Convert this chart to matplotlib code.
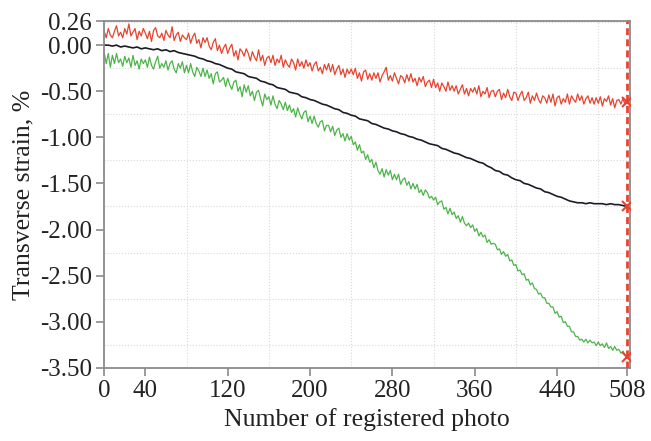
import numpy as np
import matplotlib
matplotlib.use('Agg')
import matplotlib.pyplot as plt
from matplotlib.ticker import MultipleLocator

plt.rcParams['font.family'] = ['Liberation Serif', 'DejaVu Serif']

# Photo numbers: red/green read every 2nd photo, black every 4th
photo_fine = np.arange(0, 509, 2)
photo_coarse = np.arange(0, 509, 4)

# Transverse strain, %
strain_red = [
    0.15, 0.08, 0.18, 0.11, 0.08, 0.15, 0.21, 0.10, 0.14, 0.08,
    0.18, 0.12, 0.23, 0.10, 0.14, 0.18, 0.06, 0.15, 0.10, 0.18,
    0.13, 0.07, 0.15, 0.04, 0.16, 0.19, 0.10, 0.08, 0.13, 0.05,
    0.16, 0.11, 0.08, 0.20, 0.05, 0.11, 0.14, 0.04, 0.11, 0.08,
    0.06, 0.13, 0.02, 0.09, 0.13, 0.02, 0.06, -0.03, 0.08, 0.03,
    0.08, -0.01, -0.05, 0.03, 0.07, -0.06, 0.00, -0.09, -0.03, 0.01,
    -0.09, -0.03, 0.01, -0.12, -0.06, -0.16, -0.04, -0.07, -0.12, -0.04,
    -0.09, -0.17, -0.07, -0.13, -0.17, -0.05, -0.17, -0.11, -0.22, -0.14,
    -0.12, -0.19, -0.11, -0.22, -0.15, -0.19, -0.11, -0.24, -0.16, -0.21,
    -0.24, -0.15, -0.19, -0.27, -0.15, -0.23, -0.18, -0.25, -0.16, -0.23,
    -0.19, -0.28, -0.21, -0.18, -0.28, -0.24, -0.31, -0.21, -0.27, -0.20,
    -0.29, -0.21, -0.32, -0.26, -0.22, -0.32, -0.26, -0.35, -0.26, -0.31,
    -0.26, -0.32, -0.25, -0.36, -0.30, -0.39, -0.29, -0.27, -0.37, -0.31,
    -0.38, -0.30, -0.36, -0.30, -0.40, -0.33, -0.29, -0.24, -0.38, -0.33,
    -0.39, -0.30, -0.36, -0.42, -0.33, -0.35, -0.41, -0.32, -0.39, -0.31,
    -0.40, -0.36, -0.44, -0.35, -0.40, -0.34, -0.45, -0.40, -0.38, -0.46,
    -0.37, -0.46, -0.41, -0.50, -0.41, -0.45, -0.50, -0.40, -0.49, -0.44,
    -0.50, -0.44, -0.53, -0.48, -0.43, -0.53, -0.47, -0.55, -0.47, -0.51,
    -0.46, -0.53, -0.44, -0.56, -0.50, -0.53, -0.46, -0.57, -0.50, -0.49,
    -0.56, -0.50, -0.48, -0.59, -0.52, -0.57, -0.48, -0.56, -0.60, -0.51,
    -0.52, -0.60, -0.54, -0.50, -0.60, -0.57, -0.51, -0.63, -0.55, -0.60,
    -0.52, -0.59, -0.63, -0.55, -0.57, -0.63, -0.54, -0.62, -0.53, -0.66,
    -0.57, -0.55, -0.64, -0.58, -0.62, -0.53, -0.64, -0.55, -0.59, -0.62,
    -0.53, -0.60, -0.55, -0.64, -0.58, -0.55, -0.63, -0.57, -0.64, -0.57,
    -0.63, -0.56, -0.66, -0.58, -0.61, -0.55, -0.65, -0.58, -0.68, -0.60,
    -0.59, -0.64, -0.58, -0.64, -0.62,
]

strain_green = [
    -0.08, -0.20, -0.09, -0.24, -0.11, -0.20, -0.09, -0.19, -0.15, -0.23,
    -0.12, -0.19, -0.14, -0.24, -0.11, -0.22, -0.17, -0.26, -0.15, -0.20,
    -0.16, -0.24, -0.13, -0.22, -0.26, -0.18, -0.12, -0.25, -0.20, -0.24,
    -0.17, -0.27, -0.20, -0.17, -0.26, -0.30, -0.20, -0.25, -0.18, -0.30,
    -0.22, -0.30, -0.20, -0.29, -0.34, -0.24, -0.28, -0.34, -0.25, -0.34,
    -0.27, -0.36, -0.31, -0.42, -0.31, -0.29, -0.40, -0.38, -0.35, -0.45,
    -0.36, -0.43, -0.48, -0.40, -0.38, -0.50, -0.45, -0.56, -0.43, -0.51,
    -0.44, -0.55, -0.50, -0.60, -0.51, -0.49, -0.58, -0.66, -0.53, -0.59,
    -0.56, -0.65, -0.55, -0.64, -0.69, -0.60, -0.64, -0.70, -0.62, -0.71,
    -0.65, -0.73, -0.69, -0.78, -0.68, -0.75, -0.80, -0.73, -0.71, -0.83,
    -0.77, -0.85, -0.77, -0.85, -0.89, -0.83, -0.82, -0.93, -0.87, -0.87,
    -0.94, -0.88, -0.98, -0.92, -0.90, -1.00, -0.96, -1.04, -0.96, -1.03,
    -0.99, -1.08, -1.05, -1.14, -1.08, -1.17, -1.15, -1.24, -1.19, -1.27,
    -1.24, -1.33, -1.27, -1.36, -1.40, -1.34, -1.43, -1.35, -1.41, -1.36,
    -1.46, -1.40, -1.46, -1.40, -1.51, -1.46, -1.44, -1.52, -1.48, -1.56,
    -1.50, -1.56, -1.51, -1.60, -1.57, -1.63, -1.57, -1.60, -1.66, -1.64,
    -1.68, -1.65, -1.73, -1.70, -1.69, -1.78, -1.76, -1.83, -1.77, -1.84,
    -1.81, -1.88, -1.85, -1.92, -1.86, -1.93, -1.96, -1.93, -1.98, -1.95,
    -2.02, -1.99, -2.07, -2.03, -2.08, -2.06, -2.14, -2.11, -2.16, -2.15,
    -2.16, -2.22, -2.21, -2.27, -2.24, -2.29, -2.27, -2.34, -2.33, -2.39,
    -2.38, -2.45, -2.44, -2.49, -2.48, -2.55, -2.54, -2.60, -2.58, -2.64,
    -2.65, -2.70, -2.69, -2.74, -2.74, -2.80, -2.80, -2.84, -2.84, -2.91,
    -2.89, -2.95, -2.94, -3.01, -3.00, -3.05, -3.05, -3.11, -3.11, -3.16,
    -3.16, -3.20, -3.19, -3.22, -3.19, -3.23, -3.20, -3.23, -3.22, -3.26,
    -3.22, -3.26, -3.24, -3.28, -3.23, -3.29, -3.27, -3.31, -3.27, -3.31,
    -3.30, -3.34, -3.32, -3.36, -3.38,
]

strain_black = [
    0.00, 0.00, -0.01, 0.00, -0.02, -0.01, -0.02, -0.03, -0.02, -0.04,
    -0.03, -0.04, -0.05, -0.04, -0.06, -0.05, -0.07, -0.06, -0.08, -0.09,
    -0.10, -0.11, -0.12, -0.14, -0.15, -0.17, -0.18, -0.20, -0.21, -0.23,
    -0.25, -0.26, -0.29, -0.30, -0.31, -0.34, -0.35, -0.36, -0.39, -0.40,
    -0.42, -0.43, -0.46, -0.47, -0.48, -0.51, -0.52, -0.53, -0.56, -0.57,
    -0.59, -0.60, -0.62, -0.64, -0.65, -0.67, -0.69, -0.70, -0.73, -0.74,
    -0.76, -0.77, -0.80, -0.81, -0.82, -0.85, -0.86, -0.88, -0.90, -0.91,
    -0.93, -0.94, -0.96, -0.97, -0.99, -1.00, -1.02, -1.03, -1.05, -1.07,
    -1.08, -1.09, -1.12, -1.13, -1.15, -1.17, -1.18, -1.20, -1.22, -1.23,
    -1.25, -1.27, -1.28, -1.31, -1.33, -1.36, -1.37, -1.40, -1.41, -1.44,
    -1.46, -1.47, -1.50, -1.51, -1.53, -1.55, -1.56, -1.59, -1.60, -1.62,
    -1.64, -1.65, -1.67, -1.69, -1.70, -1.71, -1.71, -1.72, -1.71, -1.72,
    -1.72, -1.72, -1.73, -1.72, -1.73, -1.73, -1.74, -1.75,
]

x_ticks = [0, 40, 120, 200, 280, 360, 440, 508]
y_ticks = [0.26, 0.00, -0.50, -1.00, -1.50, -2.00, -2.50, -3.00, -3.50]
y_labels = ['0.26', '0.00', '-0.50', '-1.00', '-1.50', '-2.00', '-2.50', '-3.00', '-3.50']
last_photo = 508

red = '#e8432f'
green = '#4cb548'
black = '#1c1c28'
gray = '#8a8a8a'

fig = plt.figure(figsize=(6.51, 4.41), dpi=100)
ax = fig.add_axes([0.160, 0.166, 0.808, 0.786])

ax.plot(photo_fine, strain_red, color=red, lw=0.9)
ax.plot(photo_coarse, strain_black, color=black, lw=1.2)
ax.plot(photo_fine, strain_green, color=green, lw=0.9)

# current photo marker
ax.axvline(last_photo, color=red, lw=2, ls=(0, (2.5, 1.5)), zorder=4)
ends = [strain_red[-1], strain_black[-1], strain_green[-1]]
ax.plot([last_photo] * 3, ends, 'x', color=red, ms=7, mew=1.5, ls='none', zorder=5)

ax.set_xlim(0, 511)
ax.set_ylim(-3.5, 0.26)
ax.set_xticks(x_ticks)
ax.set_yticks(y_ticks)
ax.set_yticklabels(y_labels)
ax.xaxis.set_minor_locator(MultipleLocator(40))
ax.yaxis.set_minor_locator(MultipleLocator(0.25))
ax.tick_params(which='minor', length=0)
ax.tick_params(which='major', direction='out', length=6, width=1.2, color=gray,
               labelsize=18, labelcolor='#222222', pad=3)
ax.grid(True, which='minor', color='#d8d8d8', ls=':', lw=0.8)
for s in ax.spines.values():
    s.set_color(gray)
    s.set_linewidth(1.3)

ax.set_xlabel('Number of registered photo', fontsize=18.5, labelpad=4, color='#222222')
ax.set_ylabel('Transverse strain, %', fontsize=18.5, labelpad=4, color='#222222')

fig.savefig('out.png', dpi=100)
